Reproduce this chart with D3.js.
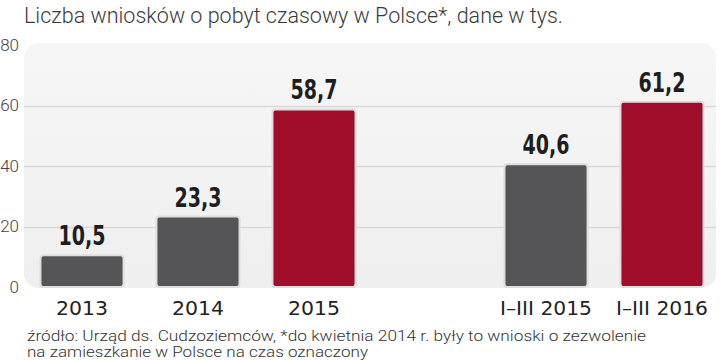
<!DOCTYPE html>
<html>
<head>
<meta charset="utf-8">
<script src="https://cdn.jsdelivr.net/npm/d3@7"></script>
<style>
	body { margin:0; background:#fff; }
	svg { display:block; }
</style>
</head>
<body>
<div class="c_chart"></div>
<script>
/*DATA
------------------------------------------------------
*/
const categories = ["2013", "2014", "2015", "I–III 2015", "I–III 2016"];
const values = [10.5, 23.3, 58.7, 40.6, 61.2];
const highlighted = ["2015", "I–III 2016"];
const yTicks = [0, 20, 40, 60, 80];
const title = "Liczba wniosków o pobyt czasowy w Polsce*, dane w tys.";
const source = [
	"źródło: Urząd ds. Cudzoziemców, *do kwietnia 2014 r. były to wnioski o zezwolenie",
	"na zamieszkanie w Polsce na czas oznaczony"
];

/*Initiate dimension*/
const width = 720;
const height = 362;
const panel = {left:24, right:716, top:43, bottom:288};

d3.formatDefaultLocale({"decimal": ",", "thousands": "\u2009", "grouping": [3], "currency": ["", ""]});
const fmt = d3.format(".1f");

const data = categories.map((c, i) => ({cat:c, val:values[i]}));
// pusty slot między latami a okresami I–III
const slots = categories.slice(0, 3).concat(["_gap"], categories.slice(3));

/*SCALES
------------------------------------------------------
*/
const x = d3.scaleBand()
	.domain(slots)
	.range([24, 720])
	.paddingInner(0.284)
	.paddingOuter(0.142);

const y = d3.scaleLinear()
	.domain([0, 80])
	.range([287, 45]);

const svg = d3.select(".c_chart")
	.append("svg")
	.attr("width", width)
	.attr("height", height);

/*TITLE*/
svg.append("text")
	.attr("x", 24)
	.attr("y", 23)
	.attr("textLength", 539)
	.attr("lengthAdjust", "spacingAndGlyphs")
	.style("font-family", "Roboto, 'Open Sans', sans-serif")
	.style("font-weight", 300)
	.style("font-size", "22px")
	.style("fill", "#3a3a3a")
	.text(title);

/*PANEL*/
const grad = svg.append("defs").append("linearGradient")
	.attr("id", "bg").attr("x1", 0).attr("y1", 0).attr("x2", 0).attr("y2", 1);
grad.append("stop").attr("offset", "0%").attr("stop-color", "#f6f6f6");
grad.append("stop").attr("offset", "100%").attr("stop-color", "#efefef");

svg.append("rect")
	.attr("x", panel.left)
	.attr("y", panel.top)
	.attr("width", panel.right - panel.left)
	.attr("height", panel.bottom - panel.top)
	.attr("rx", 15)
	.style("fill", "url(#bg)");

/*GRID*/
svg.append("g")
	.selectAll("line")
	.data(yTicks.filter(d => d > 0 && d < 80))
	.enter()
	.append("line")
	.attr("x1", panel.left)
	.attr("x2", panel.right)
	.attr("y1", d => Math.round(y(d)) + 0.5)
	.attr("y2", d => Math.round(y(d)) + 0.5)
	.style("stroke", "#d9d9d9")
	.style("stroke-width", 1.5);

/*Y AXIS*/
const yAxis = svg.append("g")
	.attr("transform", "translate(19,0)")
	.call(d3.axisLeft(y).tickValues(yTicks).tickSize(0).tickPadding(0));
yAxis.select(".domain").remove();
yAxis.selectAll("text")
	.style("font-family", "Roboto, sans-serif")
	.style("font-weight", 300)
	.style("font-size", "17px")
	.style("fill", "#444");

/*BARS*/
svg.append("g")
	.selectAll("rect")
	.data(data)
	.enter()
	.append("rect")
	.attr("x", d => x(d.cat))
	.attr("y", d => y(d.val))
	.attr("width", x.bandwidth())
	.attr("height", d => y(0) - y(d.val))
	.attr("rx", 3)
	.style("fill", d => highlighted.includes(d.cat) ? "#a00d2b" : "#555557")
	.style("stroke", "#dedede")
	.style("stroke-width", 2);

/*VALUE LABELS*/
svg.append("g")
	.selectAll("text")
	.data(data)
	.enter()
	.append("text")
	.attr("x", d => x(d.cat) + x.bandwidth() / 2)
	.attr("y", d => y(d.val) - 10)
	.attr("text-anchor", "middle")
	.attr("textLength", 47)
	.attr("lengthAdjust", "spacingAndGlyphs")
	.style("font-family", "'DejaVu Sans', sans-serif")
	.style("font-stretch", "condensed")
	.style("font-weight", "bold")
	.style("font-size", "27px")
	.style("fill", "#1e1e1e")
	.text(d => fmt(d.val));

/*X AXIS*/
const xAxis = svg.append("g")
	.attr("transform", "translate(0,315)")
	.call(d3.axisBottom(x).tickValues(categories).tickSize(0).tickPadding(0));
xAxis.select(".domain").remove();
xAxis.selectAll("text")
	.attr("dy", 0)
	.attr("y", 0)
	.attr("textLength", d => d.length > 4 ? 92 : 52)
	.attr("lengthAdjust", "spacingAndGlyphs")
	.style("font-family", "'DejaVu Sans', sans-serif")
	.style("font-size", "20px")
	.style("fill", "#222");

/*SOURCE*/
svg.append("g")
	.selectAll("text")
	.data(source)
	.enter()
	.append("text")
	.attr("x", 27)
	.attr("y", (d, i) => 341 + i * 16)
	.attr("textLength", (d, i) => i === 0 ? 619 : 341)
	.attr("lengthAdjust", "spacingAndGlyphs")
	.style("font-family", "Roboto, sans-serif")
	.style("font-weight", 300)
	.style("font-size", "14px")
	.style("fill", "#333")
	.text(d => d);
</script>
</body>
</html>
